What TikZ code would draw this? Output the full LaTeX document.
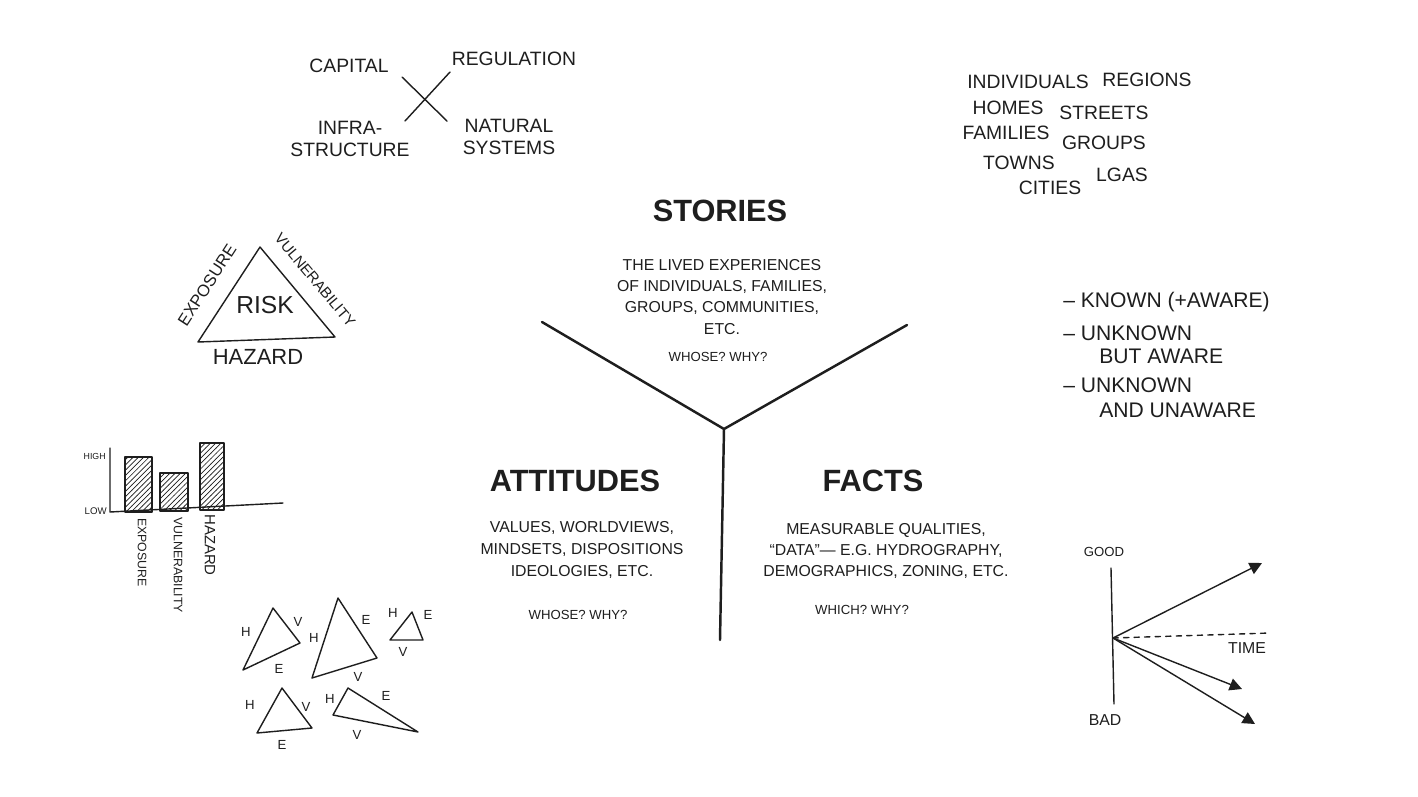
\documentclass[tikz,border=0pt]{standalone}
\usepackage{fontspec}
\setmainfont{Liberation Sans}
\usetikzlibrary{arrows.meta,patterns}
\definecolor{ink}{HTML}{1E1E1E}
\begin{document}
\begin{tikzpicture}[x=0.02cm,y=-0.02cm,
  txt/.style={text=ink,inner sep=0pt,align=center},
  head/.style={txt,font=\fontsize{17.5}{20}\selectfont\bfseries},
  body/.style={txt,font=\fontsize{9}{12}\selectfont},
  small/.style={txt,font=\fontsize{7.5}{9}\selectfont},
  note/.style={txt,font=\fontsize{11}{13}\selectfont},
  tiny/.style={txt,font=\fontsize{7.5}{9}\selectfont},
  pen/.style={draw=ink,line width=0.8pt,line cap=round,line join=round},
  bigpen/.style={draw=ink,line width=1.4pt,line cap=round,line join=round},
  tip/.style={-{Triangle[length=7pt,width=7pt]}}
]
\useasboundingbox[fill=white] (0,0) rectangle (1418,796);

% ---- cross ----
\coordinate (c1) at (402,77); \coordinate (c2) at (447,121);
\coordinate (c3) at (450,72); \coordinate (c4) at (405,121);
\draw[pen] (c1) -- (c2);
\draw[pen] (c3) -- (c4);
\node[note] (capital) at (349,66) {CAPITAL};
\node[note] (regulation) at (514,59) {REGULATION};
\node[note] (infra) at (350,139) {INFRA-\\STRUCTURE};
\node[note] (natural) at (509,137) {NATURAL\\SYSTEMS};

% ---- top right list ----
\node[note] (indiv) at (1028,82) {INDIVIDUALS};
\node[note] (regions) at (1147,80) {REGIONS};
\node[note] (homes) at (1008,108) {HOMES};
\node[note] (streets) at (1104,113) {STREETS};
\node[note] (families) at (1006,133) {FAMILIES};
\node[note] (groups) at (1104,143) {GROUPS};
\node[note] (towns) at (1019,163) {TOWNS};
\node[note] (cities) at (1050,188) {CITIES};
\node[note] (lgas) at (1122,175) {LGAS};

% ---- risk triangle ----
\coordinate (rt) at (260,247); \coordinate (rl) at (198,342); \coordinate (rr) at (335,337);
\draw[pen] (rt) -- (rl) -- (rr) -- cycle;
\node[txt,font=\fontsize{14}{16}\selectfont] (risk) at (265,305) {RISK};
\node[txt,font=\fontsize{12.5}{14}\selectfont] (hazard) at (258,357) {HAZARD};
\node[txt,font=\fontsize{9.5}{11}\selectfont,rotate=57] (exposure) at (207,285) {EXPOSURE};
\node[txt,font=\fontsize{8.5}{10}\selectfont,rotate=-50] (vuln) at (315,280) {VULNERABILITY};

% ---- bar chart ----
\coordinate (ax0) at (110,448); \coordinate (ax1) at (110,512); \coordinate (ax2) at (283,503);
\draw[pen,pattern=north east lines,pattern color=ink] (125,512) rectangle (152,457);
\draw[pen,pattern=north east lines,pattern color=ink] (160,511) rectangle (188,473);
\draw[pen,pattern=north east lines,pattern color=ink] (200,510) rectangle (224,443);
\draw[pen] (ax0) -- (ax1) -- (ax2);
\node[txt,font=\fontsize{5}{6}\selectfont,anchor=east] (high) at (106,456) {HIGH};
\node[txt,font=\fontsize{5.5}{6}\selectfont,anchor=east] (low) at (107,511) {LOW};
\node[txt,font=\fontsize{7}{8}\selectfont,rotate=-90,anchor=west] (bexp) at (142,518) {EXPOSURE};
\node[txt,font=\fontsize{7}{8}\selectfont,rotate=-90,anchor=west] (bvul) at (178,517) {VULNERABILITY};
\node[txt,font=\fontsize{8.5}{9}\selectfont,rotate=-90,anchor=west] (bhaz) at (210,514) {HAZARD};

% ---- small triangles ----
\draw[pen] (273,608) -- (243,670) -- (300,643) -- cycle;
\node[tiny] (t1h) at (246,632) {H};
\node[tiny] (t1v) at (298,622) {V};
\node[tiny] (t1e) at (279,669) {E};
\draw[pen] (338,598) -- (312,678) -- (377,658) -- cycle;
\node[tiny] (t2h) at (314,638) {H};
\node[tiny] (t2e) at (366,620) {E};
\node[tiny] (t2v) at (358,677) {V};
\draw[pen] (412,612) -- (390,640) -- (423,640) -- cycle;
\node[tiny] (t3h) at (393,613) {H};
\node[tiny] (t3e) at (428,615) {E};
\node[tiny] (t3v) at (403,652) {V};
\draw[pen] (282,688) -- (257,733) -- (312,728) -- cycle;
\node[tiny] (t4h) at (250,705) {H};
\node[tiny] (t4v) at (306,707) {V};
\node[tiny] (t4e) at (282,745) {E};
\draw[pen] (348,688) -- (333,715) -- (418,732) -- cycle;
\node[tiny] (t5h) at (330,699) {H};
\node[tiny] (t5e) at (386,696) {E};
\node[tiny] (t5v) at (357,735) {V};

% ---- central Y ----
\coordinate (yc) at (724,429);
\coordinate (yl) at (542,322);
\coordinate (yr) at (907,325);
\coordinate (yb) at (720,640);
\draw[bigpen] (yl) -- (yc) -- (yr);
\draw[bigpen] (yc) -- (yb);

\node[head] (stories) at (720,211) {STORIES};
\node[body] (storiestxt) at (722,297) {THE LIVED EXPERIENCES\\OF INDIVIDUALS, FAMILIES,\\GROUPS, COMMUNITIES,\\ETC.};
\node[small] (storiesq) at (718,357) {WHOSE? WHY?};

\node[head] (attitudes) at (575,481) {ATTITUDES};
\node[body,font=\fontsize{9}{12.5}\selectfont] (atttxt) at (582,550) {VALUES, WORLDVIEWS,\\MINDSETS, DISPOSITIONS\\IDEOLOGIES, ETC.};
\node[small] (attq) at (578,615) {WHOSE? WHY?};

\node[head] (facts) at (873,481) {FACTS};
\node[body,font=\fontsize{9}{12}\selectfont] (factstxt) at (886,551) {MEASURABLE QUALITIES,\\“DATA”— E.G. HYDROGRAPHY,\\DEMOGRAPHICS, ZONING, ETC.};
\node[small] (factsq) at (862,610) {WHICH? WHY?};

% ---- known / unknown ----
\node[txt,font=\fontsize{12}{14}\selectfont,anchor=west] (known) at (1063,302) {– KNOWN (+AWARE)};
\node[txt,font=\fontsize{12}{14}\selectfont,anchor=west] (unknown1) at (1063,333) {– UNKNOWN};
\node[txt,font=\fontsize{12}{14}\selectfont,anchor=west] (butaware) at (1099,356) {BUT AWARE};
\node[txt,font=\fontsize{12}{14}\selectfont,anchor=west] (unknown2) at (1063,385) {– UNKNOWN};
\node[txt,font=\fontsize{12}{14}\selectfont,anchor=west] (andunaware) at (1099,410) {AND UNAWARE};

% ---- good/bad graph ----
\coordinate (gtop) at (1111,568);
\coordinate (gbot) at (1114,704);
\coordinate (go) at (1113,638);
\coordinate (g1) at (1262,563);
\coordinate (gt) at (1270,633);
\coordinate (g2) at (1242,689);
\coordinate (g3) at (1255,724);
\draw[pen] (gtop) -- (gbot);
\draw[pen,tip] (go) -- (g1);
\draw[pen,dashed] (go) -- (gt);
\draw[pen,tip] (go) -- (g2);
\draw[pen,tip] (go) -- (g3);
\node[txt,font=\fontsize{7.5}{9}\selectfont] (good) at (1104,552) {GOOD};
\node[txt,font=\fontsize{9}{10}\selectfont] (bad) at (1105,720) {BAD};
\node[txt,font=\fontsize{9}{10}\selectfont] (time) at (1247,648) {TIME};
\end{tikzpicture}
\end{document}
